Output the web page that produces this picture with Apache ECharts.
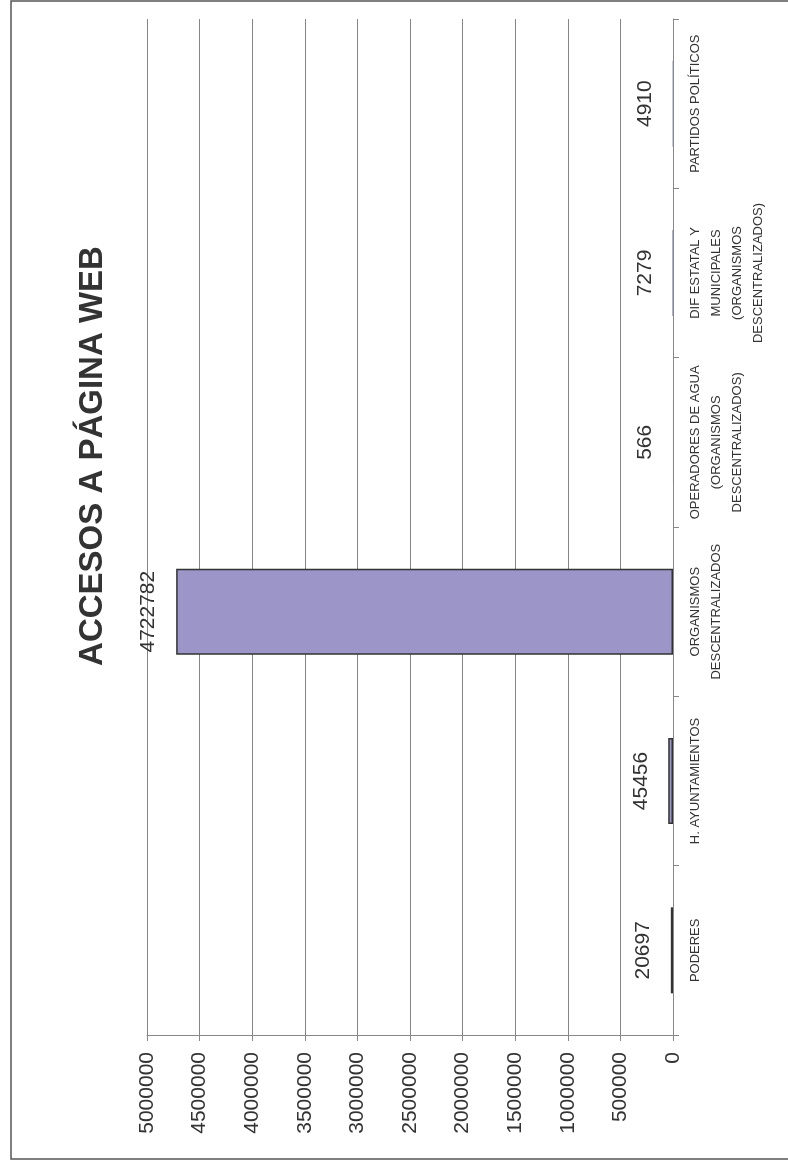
<!DOCTYPE html>
<html>
<head>
<meta charset="utf-8">
<script src="https://cdn.jsdelivr.net/npm/echarts@6/dist/echarts.min.js"></script>
<style>
  html, body { margin: 0; padding: 0; background: #ffffff; }
  #chart { width: 788px; height: 1160px; }
</style>
</head>
<body>
<div id="chart"></div>
<script>
// ---- data ----
const titleText = 'ACCESOS A PÁGINA WEB';
const categories = [
  'PODERES',
  'H. AYUNTAMIENTOS',
  'ORGANISMOS\nDESCENTRALIZADOS',
  'OPERADORES DE AGUA\n(ORGANISMOS\nDESCENTRALIZADOS)',
  'DIF ESTATAL Y\nMUNICIPALES\n(ORGANISMOS\nDESCENTRALIZADOS)',
  'PARTIDOS POLÍTICOS'
];
const values = [20697, 45456, 4722782, 566, 7279, 4910];
const axisMin = 0;
const axisMax = 5000000;
const axisStep = 500000;

// ---- chart ----
const FONT = '"Liberation Sans", Arial, Helvetica, sans-serif';
const chart = echarts.init(document.getElementById('chart'), null, { renderer: 'canvas' });

const barData = values.map(v => ({
  value: v,
  itemStyle: { borderWidth: v < 10000 ? 0 : 1.5 }
}));

chart.setOption({
  animation: false,
  backgroundColor: '#ffffff',
  grid: { left: 147, right: 115, top: 19, bottom: 125, containLabel: false },
  xAxis: {
    type: 'value',
    inverse: true,
    position: 'bottom',
    min: axisMin,
    max: axisMax,
    interval: axisStep,
    axisLine: { show: true, lineStyle: { color: '#888888', width: 1 } },
    axisTick: { show: true, length: 6, lineStyle: { color: '#888888', width: 1 } },
    axisLabel: {
      rotate: 90,
      margin: 17,
      fontFamily: FONT,
      fontSize: 21,
      color: '#333333',
      formatter: v => String(v)
    },
    splitLine: { show: true, lineStyle: { color: '#858585', width: 1 } }
  },
  yAxis: {
    type: 'category',
    position: 'right',
    data: categories,
    axisLine: { show: true, onZero: false, lineStyle: { color: '#888888', width: 1 } },
    axisTick: { show: true, length: 6, lineStyle: { color: '#888888', width: 1 } },
    axisLabel: {
      rotate: 90,
      margin: 12,
      interval: 0,
      fontFamily: FONT,
      fontSize: 13,
      lineHeight: 21,
      color: '#333333'
    },
    splitLine: { show: false }
  },
  series: [{
    type: 'bar',
    data: barData,
    barWidth: 86,
    itemStyle: { color: '#9b95c8', borderColor: '#333333', borderWidth: 1.5 },
    label: {
      show: true,
      position: 'left',
      rotate: 90,
      align: 'center',
      verticalAlign: 'bottom',
      distance: 17,
      fontFamily: FONT,
      fontSize: 21,
      color: '#333333'
    }
  }],
  graphic: [
    {
      type: 'polyline',
      silent: true,
      shape: { points: [[788, 1], [11, 1], [11, 1159], [788, 1159]] },
      style: { stroke: '#555555', lineWidth: 1.5, fill: null }
    },
    {
      type: 'text',
      x: 93,
      y: 456,
      rotation: Math.PI / 2,
      style: {
        text: titleText,
        font: 'bold 33px ' + FONT,
        fill: '#333333',
        textAlign: 'center',
        textVerticalAlign: 'middle'
      }
    }
  ]
});
</script>
</body>
</html>
